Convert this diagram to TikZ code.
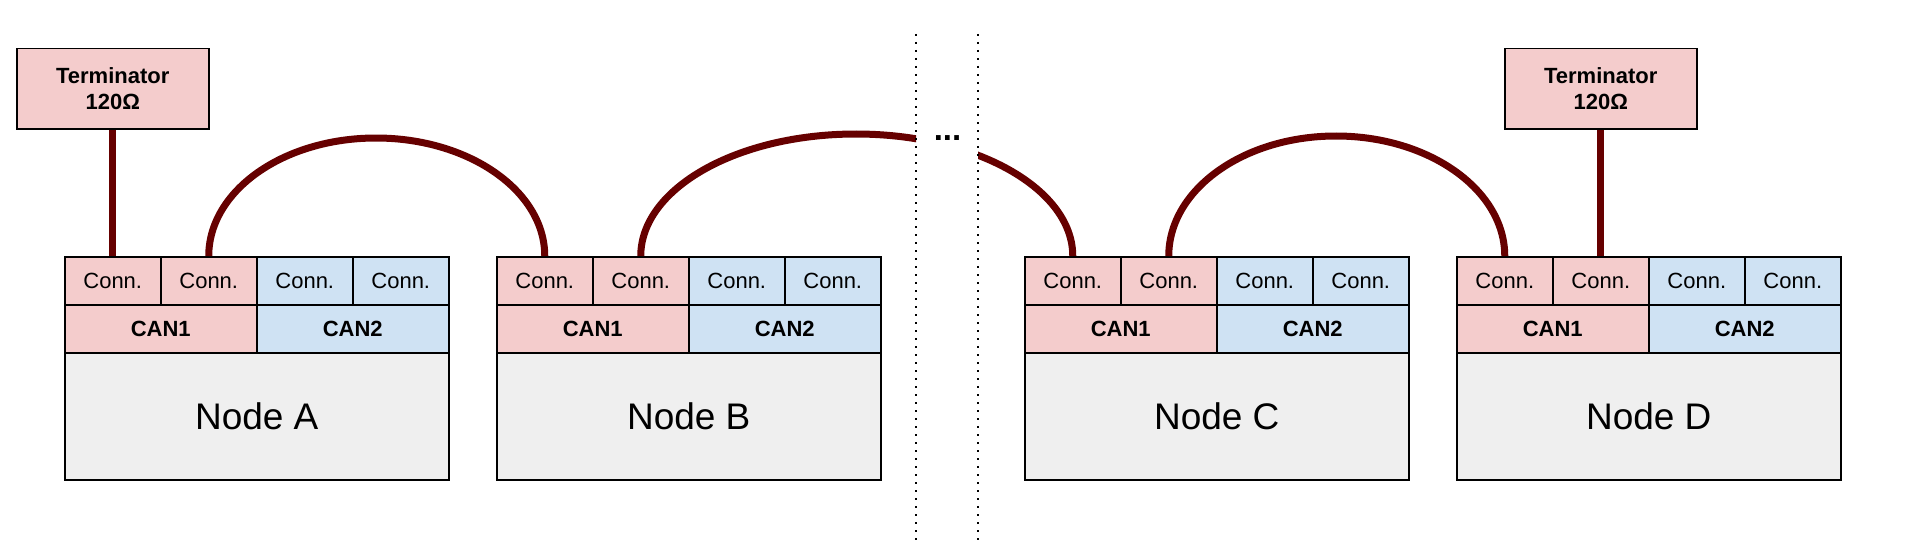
\documentclass[tikz,border=0pt]{standalone}
\usepackage{fontspec}
\setmainfont{Liberation Sans}
\definecolor{pinkc}{HTML}{F4CCCC}
\definecolor{bluec}{HTML}{CFE2F3}
\definecolor{grayc}{HTML}{EFEFEF}
\definecolor{wirec}{HTML}{660000}
\tikzset{
  box/.style={draw=black, line width=0.75pt, inner sep=0pt, anchor=north west},
  cell/.style={box, minimum width=48pt, minimum height=24pt, font=\fontsize{11}{13}\selectfont},
  canbox/.style={box, minimum width=96pt, minimum height=24pt, font=\bfseries\fontsize{11}{13}\selectfont},
  bodybox/.style={box, fill=grayc, minimum width=192pt, minimum height=63.5pt, font=\fontsize{18.5}{22}\selectfont},
  termbox/.style={box, fill=pinkc, minimum width=96pt, minimum height=40pt, align=center, font=\bfseries\fontsize{11}{12.8}\selectfont},
  wire/.style={draw=wirec, line width=3.5pt},
  divider/.style={draw=black, line width=1pt, dash pattern=on 1pt off 3pt},
}
\newcommand{\mkunit}[3]{%
  \node[cell,fill=pinkc] (#1c1) at (#2,286) {Conn.};
  \node[cell,fill=pinkc] (#1c2) at (#2+96,286) {Conn.};
  \node[cell,fill=bluec] (#1c3) at (#2+192,286) {Conn.};
  \node[cell,fill=bluec] (#1c4) at (#2+288,286) {Conn.};
  \node[canbox,fill=pinkc] (#1can1) at (#2,238) {CAN1};
  \node[canbox,fill=bluec] (#1can2) at (#2+192,238) {CAN2};
  \node[bodybox] (#1body) at (#2,190) {#3};
}
\begin{document}
\begin{tikzpicture}[x=0.5pt,y=0.5pt]
\useasboundingbox (0,0) rectangle (1920,542);
% units
\mkunit{A}{64}{Node A}
\mkunit{B}{496}{Node B}
\mkunit{C}{1024}{Node C}
\mkunit{D}{1456}{Node D}
% terminators
\node[termbox] (TA) at (16,494) {Terminator\\120Ω};
\node[termbox] (TD) at (1504,494) {Terminator\\120Ω};
% arc peaks
\coordinate (pAB) at (376,404);
\coordinate (pBC) at (856,408);
\coordinate (pCD) at (1336,406);
% wires
\draw[wire] (TA.south) -- (Ac1.north);
\draw[wire] (TD.south) -- (Dc2.north);
\draw[wire] (Ac2.north) to[out=90,in=180,out distance=32.6pt,in distance=46.4pt] (pAB)
  to[out=0,in=90,out distance=46.4pt,in distance=32.6pt] (Bc1.north);
\begin{scope}
  \clip (0,0) rectangle (916,542);
  \draw[wire] (Bc2.north) to[out=90,in=180,out distance=33.7pt,in distance=59.6pt] (pBC)
    to[out=0,in=90,out distance=59.6pt,in distance=33.7pt] (Cc1.north);
\end{scope}
\begin{scope}
  \clip (978,0) rectangle (1920,542);
  \draw[wire] (Bc2.north) to[out=90,in=180,out distance=33.7pt,in distance=59.6pt] (pBC)
    to[out=0,in=90,out distance=59.6pt,in distance=33.7pt] (Cc1.north);
\end{scope}
\draw[wire] (Cc2.north) to[out=90,in=180,out distance=33.1pt,in distance=46.4pt] (pCD)
  to[out=0,in=90,out distance=46.4pt,in distance=33.1pt] (Dc1.north);
% dividers
\coordinate (d1t) at (916,508);
\coordinate (d1b) at (916,0);
\coordinate (d2t) at (978,508);
\coordinate (d2b) at (978,0);
\draw[divider] (d1t) -- (d1b);
\draw[divider] (d2t) -- (d2b);
\node[font=\bfseries\fontsize{16.5}{18}\selectfont, inner sep=0pt] (dots) at (947.5,404) {...};
\end{tikzpicture}
\end{document}
